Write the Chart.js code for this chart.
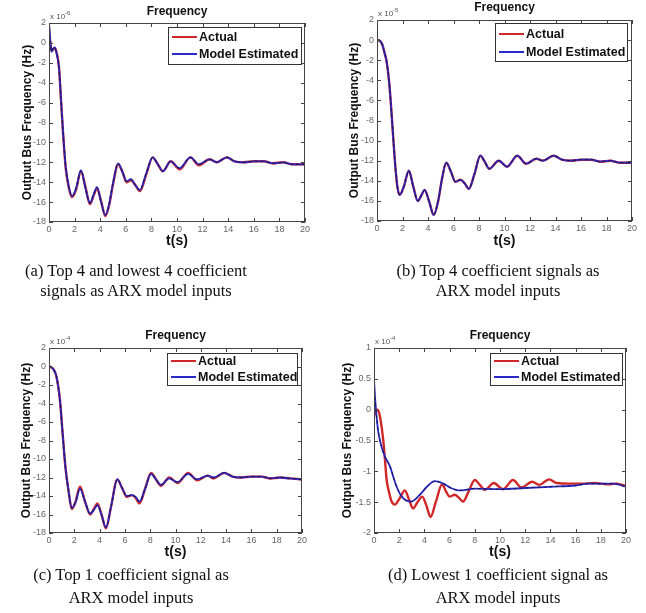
<!DOCTYPE html>
<html>
<head>
<meta charset="utf-8">
<script src="https://cdn.jsdelivr.net/npm/chart.js@4.4.1/dist/chart.umd.min.js"></script>
<style>
  html, body { margin: 0; padding: 0; background: #fff; }
  body { width: 646px; height: 613px; position: relative; overflow: hidden; }
  canvas { position: absolute; }
  .cap { position: absolute; font-family: "Liberation Serif", "Times New Roman", serif; font-size: 16.5px;
         line-height: 20px; color: #111; text-align: center; white-space: nowrap; }
</style>
</head>
<body>
<canvas id="cA" width="323" height="255" style="left:0;top:0"></canvas>
<canvas id="cB" width="323" height="255" style="left:323px;top:0"></canvas>
<canvas id="cC" width="323" height="265" style="left:0;top:300px"></canvas>
<canvas id="cD" width="323" height="265" style="left:323px;top:300px"></canvas>

<div class="cap" style="left:0;width:272px;top:261px">(a) Top 4 and lowest 4 coefficient<br>signals as ARX model inputs</div>
<div class="cap" style="left:350px;width:296px;top:261px">(b) Top 4 coefficient signals as<br>ARX model inputs</div>
<div class="cap" style="left:0;width:262px;top:563px;line-height:23px">(c) Top 1 coefficient signal as<br>ARX model inputs</div>
<div class="cap" style="left:350px;width:296px;top:563px;line-height:23px">(d) Lowest 1 coefficient signal as<br>ARX model inputs</div>

<script>
// tick labels
const xTicks = [0, 2, 4, 6, 8, 10, 12, 14, 16, 18, 20];
const yTicks18 = [2, 0, -2, -4, -6, -8, -10, -12, -14, -16, -18];
const yTicksD = [1, 0.5, 0, -0.5, -1, -1.5, -2];

// (a) top 4 and lowest 4 coefficients
const tA = [0, 0.1, 0.2, 0.3, 0.45, 0.6, 0.78, 0.94, 1.1, 1.3, 1.54, 1.8, 2.1, 2.5, 2.85, 3.2, 3.5, 3.75, 4.05, 4.4, 4.7, 5.0, 5.4, 5.75, 6.05, 6.4, 6.75, 7.1, 7.6, 8.1, 8.5, 8.9, 9.5, 10.2, 11.05, 11.7, 12.55, 13.1, 13.9, 14.5, 15.2, 16, 16.8, 17.5, 18.3, 19, 20];
const actualA = [1.5, 0.0, -0.8, -0.7, -0.5, -1.0, -2.4, -5.8, -9.1, -12.5, -14.5, -15.5, -14.8, -12.9, -14.5, -16.2, -15.3, -14.6, -15.8, -17.4, -16.3, -14.2, -12.2, -13.0, -14.0, -13.8, -14.3, -14.9, -13.2, -11.5, -12.2, -12.9, -11.9, -12.7, -11.5, -12.3, -11.7, -12.0, -11.5, -11.9, -12.0, -11.9, -11.9, -12.1, -12.0, -12.2, -12.2];
const modelA = [2.0, 0.2, -0.9, -0.6, -0.45, -1.1, -2.5, -5.7, -9.0, -12.4, -14.4, -15.4, -14.7, -12.8, -14.6, -16.1, -15.2, -14.5, -15.9, -17.3, -16.2, -14.1, -12.1, -13.0, -13.9, -13.7, -14.3, -14.8, -13.1, -11.5, -12.2, -12.9, -11.9, -12.6, -11.5, -12.2, -11.7, -12.0, -11.5, -11.9, -12.0, -11.9, -11.9, -12.1, -12.0, -12.2, -12.2];

// (b) top 4 coefficients
const tB = [0, 0.2, 0.4, 0.6, 0.75, 0.94, 1.07, 1.25, 1.44, 1.6, 1.78, 2.1, 2.5, 2.85, 3.2, 3.5, 3.73, 4.1, 4.45, 4.8, 5.1, 5.43, 5.8, 6.15, 6.55, 6.9, 7.2, 7.65, 8.1, 8.45, 8.8, 9.55, 10.2, 11.0, 11.7, 12.5, 13.0, 13.85, 14.5, 15.2, 16, 16.8, 17.5, 18.3, 19, 20];
const actualB = [0, -0.05, -0.4, -1.3, -2.1, -4.0, -6.0, -9.3, -12.6, -14.6, -15.4, -14.6, -13.0, -14.6, -16.0, -15.4, -14.9, -16.1, -17.4, -16.0, -13.8, -12.2, -13.1, -14.1, -13.9, -14.3, -14.8, -13.3, -11.5, -12.1, -12.8, -12.0, -12.6, -11.5, -12.3, -11.8, -12.0, -11.5, -11.9, -12.0, -11.9, -11.9, -12.1, -12.0, -12.2, -12.2];
const modelB = [0, -0.05, -0.4, -1.3, -2.1, -4.0, -6.0, -9.3, -12.6, -14.6, -15.4, -14.6, -13.0, -14.6, -16.0, -15.4, -14.9, -16.1, -17.4, -16.0, -13.8, -12.2, -13.1, -14.1, -13.9, -14.3, -14.8, -13.3, -11.5, -12.1, -12.8, -12.0, -12.6, -11.5, -12.3, -11.8, -12.0, -11.5, -11.9, -12.0, -11.9, -11.9, -12.1, -12.0, -12.2, -12.2];

// (c) top 1 coefficient
const tC = [0, 0.2, 0.4, 0.6, 0.87, 1.08, 1.3, 1.53, 1.8, 2.1, 2.45, 2.85, 3.25, 3.55, 3.83, 4.15, 4.5, 4.9, 5.4, 5.8, 6.15, 6.55, 6.85, 7.15, 7.6, 8.07, 8.45, 8.85, 9.5, 10.15, 11.0, 11.7, 12.55, 13.0, 13.85, 14.5, 15.2, 16, 16.8, 17.5, 18.3, 19, 20];
const actualC = [0, -0.1, -0.4, -1.15, -3.7, -7.3, -10.9, -13.3, -15.4, -14.6, -13.0, -14.6, -16.0, -15.4, -14.8, -16.0, -17.5, -15.2, -12.2, -13.2, -14.1, -13.9, -14.2, -14.8, -13.2, -11.5, -12.2, -12.9, -12.0, -12.6, -11.5, -12.3, -11.8, -12.1, -11.5, -11.9, -12.0, -11.9, -11.9, -12.1, -12.0, -12.1, -12.2];
const modelC = [0, -0.1, -0.4, -1.15, -3.7, -7.3, -10.9, -13.3, -15.3, -14.7, -13.2, -14.6, -15.9, -15.5, -15.0, -16.0, -17.4, -15.2, -12.2, -13.2, -14.0, -13.9, -14.1, -14.6, -13.2, -11.6, -12.2, -12.8, -12.1, -12.5, -11.6, -12.2, -11.8, -12.0, -11.5, -11.9, -12.0, -11.9, -11.9, -12.1, -12.0, -12.1, -12.2];

// (d) lowest 1 coefficient
const tD = [0, 0.15, 0.3, 0.47, 0.6, 0.74, 0.87, 1.0, 1.21, 1.4, 1.66, 2.0, 2.45, 2.8, 3.1, 3.45, 3.83, 4.15, 4.49, 4.9, 5.41, 5.7, 6.0, 6.4, 6.75, 7.07, 7.5, 8.0, 8.4, 8.8, 9.5, 10.24, 11.03, 11.7, 12.56, 13.1, 13.9, 14.5, 15.5, 16.5, 17.5, 18.5, 19.3, 20];
const actualD = [-0.1, -0.03, 0.0, -0.11, -0.27, -0.51, -0.81, -1.13, -1.35, -1.49, -1.54, -1.45, -1.31, -1.47, -1.6, -1.5, -1.41, -1.55, -1.74, -1.5, -1.21, -1.32, -1.41, -1.38, -1.43, -1.49, -1.33, -1.14, -1.22, -1.30, -1.19, -1.29, -1.14, -1.26, -1.17, -1.22, -1.13, -1.19, -1.2, -1.2, -1.19, -1.21, -1.2, -1.24];
const tDm = [0, 0.05, 0.12, 0.2, 0.34, 0.6, 0.87, 1.27, 1.53, 1.8, 2.2, 2.93, 3.64, 4.2, 4.83, 5.5, 6.1, 6.8, 8, 10, 12, 14, 16, 17, 18, 19, 20];
const modelD = [0.5, 0.3, 0.1, -0.1, -0.36, -0.6, -0.76, -0.92, -1.09, -1.25, -1.41, -1.49, -1.38, -1.25, -1.16, -1.2, -1.27, -1.31, -1.28, -1.29, -1.27, -1.25, -1.23, -1.2, -1.2, -1.2, -1.25];

const RED = '#d02828';
const BLUE = '#2a2ac8';
const NAVY = '#14144a';

function pts(ts, vs) {
    return ts.map((t, i) => ({ x: t, y: vs[i] }));
}

// box, inward ticks, title, axis titles, exponent and legend
const decor = {
    id: 'decor',
    afterDraw(chart, args, o) {
        const ctx = chart.ctx;
        const a = chart.chartArea;
        const xs = chart.scales.x, ys = chart.scales.y;
        ctx.save();
        ctx.strokeStyle = '#444';
        ctx.lineWidth = 1;
        ctx.strokeRect(a.left + 0.5, a.top + 0.5, a.right - a.left - 1, a.bottom - a.top - 1);
        ctx.beginPath();
        xs.ticks.forEach(t => {
            const px = Math.round(xs.getPixelForValue(t.value)) + 0.5;
            ctx.moveTo(px, a.bottom); ctx.lineTo(px, a.bottom - 4);
            ctx.moveTo(px, a.top); ctx.lineTo(px, a.top + 4);
        });
        ys.ticks.forEach(t => {
            const py = Math.round(ys.getPixelForValue(t.value)) + 0.5;
            ctx.moveTo(a.left, py); ctx.lineTo(a.left + 4, py);
            ctx.moveTo(a.right, py); ctx.lineTo(a.right - 4, py);
        });
        ctx.stroke();

        const cx = (a.left + a.right) / 2;
        ctx.fillStyle = '#111';
        ctx.textAlign = 'center';
        ctx.textBaseline = 'middle';
        ctx.font = 'bold 12px "Liberation Sans", Arial, sans-serif';
        ctx.fillText('Frequency', cx, o.titleY);
        ctx.font = 'bold 14px "Liberation Sans", Arial, sans-serif';
        ctx.fillText('t(s)', cx, o.xTitleY);
        ctx.save();
        ctx.translate(o.yTitleX, (a.top + a.bottom) / 2);
        ctx.rotate(-Math.PI / 2);
        ctx.font = 'bold 12px "Liberation Sans", Arial, sans-serif';
        ctx.fillText('Output Bus Frequency (Hz)', 0, 0);
        ctx.restore();

        // exponent
        ctx.fillStyle = '#555';
        ctx.textAlign = 'left';
        ctx.textBaseline = 'alphabetic';
        ctx.font = '8px "Liberation Sans", Arial, sans-serif';
        ctx.fillText('x 10', a.left + 1, a.top - 4);
        const w = ctx.measureText('x 10').width;
        ctx.font = '6px "Liberation Sans", Arial, sans-serif';
        ctx.fillText(o.exp, a.left + 1 + w, a.top - 8);

        // legend
        const L = o.legend;
        ctx.fillStyle = '#fff';
        ctx.fillRect(L.x, L.y, L.w, L.h);
        ctx.strokeStyle = '#333';
        ctx.strokeRect(L.x + 0.5, L.y + 0.5, L.w - 1, L.h - 1);
        const rows = [['Actual', RED], ['Model Estimated', BLUE]];
        rows.forEach((r, i) => {
            const yy = L.y + L.r1 + i * L.gap;
            ctx.strokeStyle = r[1];
            ctx.lineWidth = 2;
            ctx.beginPath();
            ctx.moveTo(L.x + 4, yy); ctx.lineTo(L.x + 29, yy);
            ctx.stroke();
            ctx.fillStyle = '#111';
            ctx.font = 'bold 12.5px "Liberation Sans", Arial, sans-serif';
            ctx.textBaseline = 'middle';
            ctx.fillText(r[0], L.x + 31, yy + 1);
        });
        ctx.restore();
    }
};

function makePanel(id, cfg) {
    const cv = document.getElementById(id);
    const W = cv.width, H = cv.height;
    const p = cfg.plot;
    new Chart(cv.getContext('2d'), {
        type: 'line',
        data: {
            // first dataset is drawn on top
            datasets: [
                { data: pts(cfg.tM, cfg.model), borderColor: NAVY, borderWidth: 1, borderDash: [3, 3] },
                { data: pts(cfg.tM, cfg.model), borderColor: BLUE, borderWidth: 1.8 },
                { data: pts(cfg.tA, cfg.actual), borderColor: RED, borderWidth: 2.4 }
            ]
        },
        options: {
            responsive: false,
            animation: false,
            devicePixelRatio: 1,
            parsing: false,
            elements: {
                point: { radius: 0 },
                line: { cubicInterpolationMode: 'monotone', fill: false }
            },
            layout: { padding: { left: 0, top: p.t, right: W - p.r, bottom: 0 } },
            plugins: {
                legend: { display: false },
                tooltip: { enabled: false },
                decor: cfg.decor
            },
            scales: {
                x: {
                    type: 'linear', min: 0, max: 20,
                    afterFit: s => { s.height = H - p.b; },
                    afterBuildTicks: s => { s.ticks = xTicks.map(v => ({ value: v })); },
                    grid: { display: false, drawTicks: false },
                    border: { display: false },
                    ticks: { padding: 2, color: '#666', font: { size: 9, family: '"Liberation Sans", Arial' }, maxRotation: 0 }
                },
                y: {
                    type: 'linear', min: cfg.yMin, max: cfg.yMax,
                    afterFit: s => { s.width = p.l; },
                    afterBuildTicks: s => { s.ticks = cfg.yTicks.map(v => ({ value: v })); },
                    grid: { display: false, drawTicks: false },
                    border: { display: false },
                    ticks: { padding: 3, color: '#666', font: { size: 9, family: '"Liberation Sans", Arial' },
                             callback: v => String(v) }
                }
            }
        },
        plugins: [decor]
    });
}

makePanel('cA', {
    tA: tA, actual: actualA, tM: tA, model: modelA, yMin: -18, yMax: 2, yTicks: yTicks18,
    plot: { l: 49, t: 23, r: 305, b: 222 },
    decor: { titleY: 12, xTitleY: 241, yTitleX: 28, exp: '-6',
             legend: { x: 168, y: 27, w: 134, h: 38, r1: 10, gap: 17 } }
});
makePanel('cB', {
    tA: tB, actual: actualB, tM: tB, model: modelB, yMin: -18, yMax: 2, yTicks: yTicks18,
    plot: { l: 54, t: 20, r: 309, b: 221 },
    decor: { titleY: 8, xTitleY: 241, yTitleX: 32, exp: '-5',
             legend: { x: 172, y: 23, w: 133, h: 39, r1: 11, gap: 18 } }
});
makePanel('cC', {
    tA: tC, actual: actualC, tM: tC, model: modelC, yMin: -18, yMax: 2, yTicks: yTicks18,
    plot: { l: 49, t: 48, r: 302, b: 233 },
    decor: { titleY: 36, xTitleY: 252, yTitleX: 27, exp: '-4',
             legend: { x: 167, y: 53, w: 131, h: 33, r1: 8, gap: 16 } }
});
makePanel('cD', {
    tA: tD, actual: actualD, tM: tDm, model: modelD, yMin: -2, yMax: 1, yTicks: yTicksD,
    plot: { l: 51, t: 48, r: 303, b: 233 },
    decor: { titleY: 36, xTitleY: 252, yTitleX: 25, exp: '-4',
             legend: { x: 167, y: 53, w: 133, h: 33, r1: 8, gap: 16 } }
});
</script>
</body>
</html>
